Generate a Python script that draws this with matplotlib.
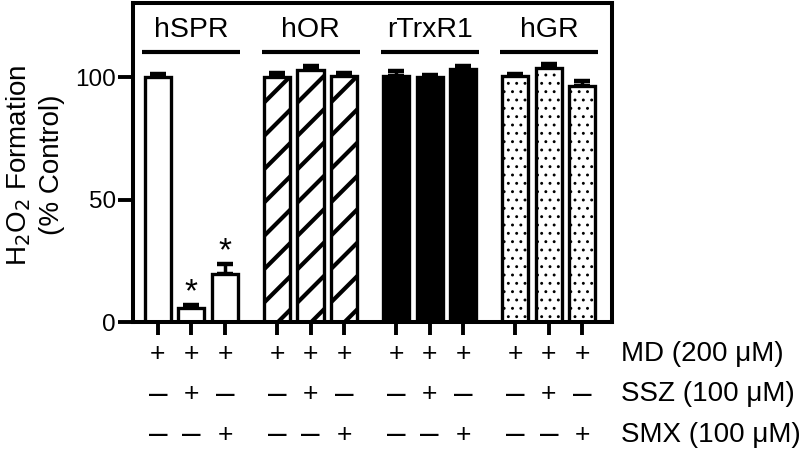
import matplotlib
matplotlib.use("Agg")
import matplotlib.pyplot as plt
import matplotlib.transforms as mtransforms

plt.rcParams['font.family'] = ['Liberation Sans', 'DejaVu Sans']

# data
enzimas = ['hSPR', 'hOR', 'rTrxR1', 'hGR']
valores = [[100.0, 5.7, 19.6],
           [100.2, 103.0, 100.3],
           [100.4, 100.0, 103.4],
           [100.4, 103.8, 96.4]]
errores = [[1.2, 1.4, 4.1],
           [1.6, 1.5, 1.5],
           [2.2, 1.0, 1.1],
           [0.8, 1.5, 2.0]]
rellenos = ['white', 'white', 'black', 'white']
tramas = [None, '/', None, '..']
filas = ['MD (200 \u03bcM)', 'SSZ (100 \u03bcM)', 'SMX (100 \u03bcM)']
signos = [['+', '+', '+'],
          ['\u2013', '+', '\u2013'],
          ['\u2013', '\u2013', '+']]
asteriscos = [(0, 1), (0, 2)]

fig = plt.figure(figsize=(8.09, 4.51), dpi=100)
ax = fig.add_axes([0.164, 0.286, 0.592, 0.707])

paso_grupo = 3.55
posiciones = []
for g, enz in enumerate(enzimas):
    xs = [g * paso_grupo + i for i in range(3)]
    posiciones.extend(xs)
    hlw = 3.0 if tramas[g] == '/' else 0.9
    with plt.rc_context({'hatch.linewidth': hlw, 'hatch.color': 'black'}):
        ax.bar(xs, valores[g], width=0.78, color=rellenos[g], edgecolor='black',
               linewidth=2.4, hatch=tramas[g], zorder=2)
    ax.errorbar(xs, valores[g], yerr=[[0, 0, 0], errores[g]], fmt='none',
                ecolor='black', elinewidth=2.5, capsize=6, capthick=3.2, zorder=1)
    centro = g * paso_grupo + 1
    ax.plot([centro - 1.46, centro + 1.46], [110.2, 110.2], color='black', lw=3,
            solid_capstyle='butt', clip_on=False)
    ax.text(centro, 116.3, enz, ha='center', va='baseline', fontsize=20.5)

trans = mtransforms.blended_transform_factory(ax.transData, ax.transAxes)
filas_y = [-0.100, -0.226, -0.354]
for g in range(len(enzimas)):
    for r in range(3):
        for i in range(3):
            s = signos[r][i]
            ax.text(g * paso_grupo + i, filas_y[r], s, ha='center', va='center',
                    fontsize=19 if s == '+' else 24, transform=trans)
for r, etiqueta in enumerate(filas):
    fig.text(621 / 809, 1 - (322 - filas_y[r] * 319) / 451, etiqueta,
             ha='left', va='center', fontsize=20)

for g, i in asteriscos:
    ax.text(g * paso_grupo + i, valores[g][i] + errores[g][i] + 5, '*',
            ha='center', va='center', fontsize=24)

ax.set_xlim(-0.75, posiciones[-1] + 0.87)
ax.set_ylim(0, 130.2)
ax.set_xticks(posiciones)
ax.set_xticklabels([])
ax.set_yticks([0, 50, 100])
ax.tick_params(axis='y', direction='out', width=2.8, length=11, pad=1, labelsize=17.5)
ax.tick_params(axis='x', direction='out', width=2.8, length=9.5)
for s in ax.spines.values():
    s.set_linewidth(2.9)

fig.text(35 / 809, 1 - 165 / 451, 'H$_2$O$_2$ Formation\n(% Control)', fontsize=20,
         rotation=90, ha='center', va='center', linespacing=1.3,
         multialignment='center')

fig.savefig('out.png', dpi=100)
